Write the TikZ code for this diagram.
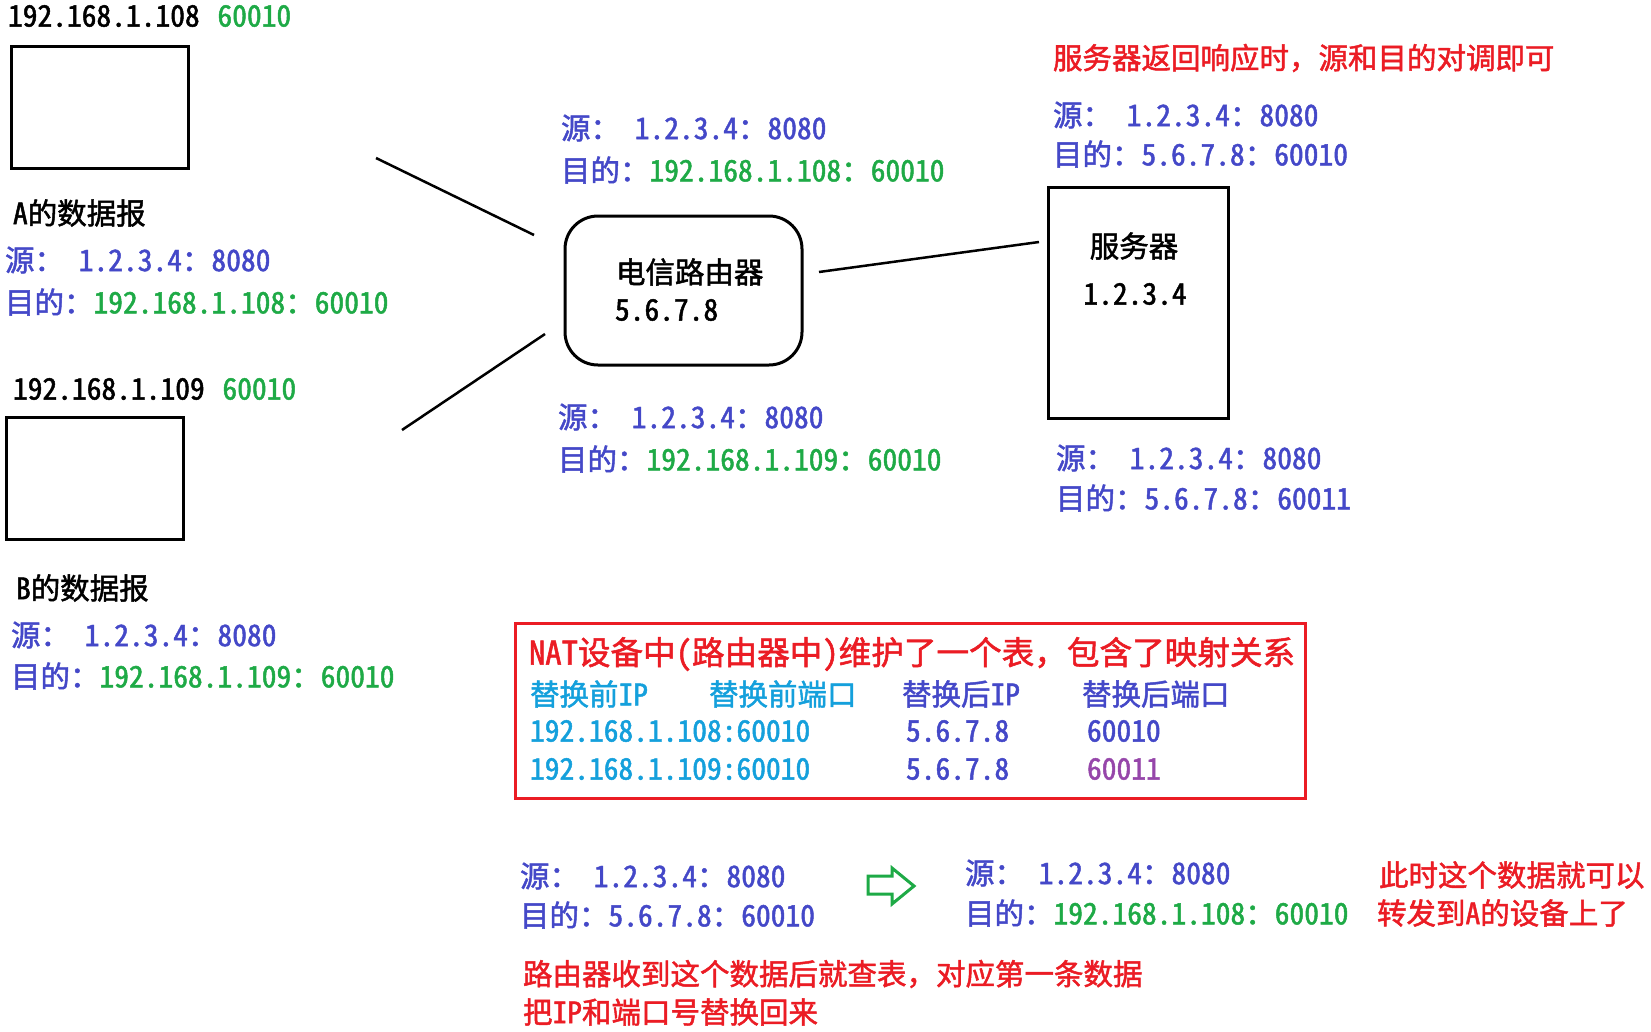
\documentclass[tikz,border=0pt]{standalone}
\usepackage{fontspec}
\setmainfont{Noto Sans CJK SC}[RawFeature=+hwid, FakeBold=1.6]
\newfontfamily\cjkfw{Noto Sans CJK SC}[FakeBold=1.6]
\newcommand{\fwc}{{\cjkfw ，}}
\definecolor{cblue}{RGB}{68,72,200}
\definecolor{cgreen}{RGB}{30,170,70}
\definecolor{cred}{RGB}{235,28,36}
\definecolor{ccyan}{RGB}{20,160,220}
\definecolor{cpurple}{RGB}{150,70,170}
\tikzset{
  txt/.style={inner sep=0pt, outer sep=0pt, anchor=west, font=\fontsize{29.5}{32}\selectfont},
  ctxt/.style={txt, anchor=center},
  boxnode/.style={draw, line width=3pt, inner sep=0pt, outer sep=0pt},
  link/.style={line width=2.5pt},
  bl/.style={txt, text=cblue},
  rd/.style={txt, text=cred},
}
\begin{document}
\begin{tikzpicture}[x=1pt,y=-1pt]
\useasboundingbox[fill=white] (0,0) rectangle (1651,1031);

% left host A
\node[txt] (ipA) at (8,16) {192.168.1.108\hspace{0.6em}\textcolor{cgreen}{60010}};
\node[boxnode, minimum width=177pt, minimum height=122pt] (boxA) at (99.5,107) {};
\node[txt] (lblA) at (13,213) {A的数据报};
\node[bl] (srcA) at (5,260) {源： 1.2.3.4：8080};
\node[bl] (dstA) at (5,302) {目的：\textcolor{cgreen}{192.168.1.108：60010}};

% left host B
\node[txt] (ipB) at (13,389) {192.168.1.109\hspace{0.6em}\textcolor{cgreen}{60010}};
\node[boxnode, minimum width=177pt, minimum height=122pt] (boxB) at (94.5,478) {};
\node[txt] (lblB) at (16,588) {B的数据报};
\node[bl] (srcB) at (11,635) {源： 1.2.3.4：8080};
\node[bl] (dstB) at (11,676) {目的：\textcolor{cgreen}{192.168.1.109：60010}};

% router
\node[boxnode, rounded corners=33pt, minimum width=237pt, minimum height=149pt] (router) at (683.5,290.5) {};
\node[txt] (routerName) at (616,272) {电信路由器};
\node[txt] (routerIP) at (615,310) {5.6.7.8};
\node[bl] (srcR1) at (561,128) {源： 1.2.3.4：8080};
\node[bl] (dstR1) at (561,170) {目的：\textcolor{cgreen}{192.168.1.108：60010}};
\node[bl] (srcR2) at (558,417) {源： 1.2.3.4：8080};
\node[bl] (dstR2) at (558,459) {目的：\textcolor{cgreen}{192.168.1.109：60010}};

% server
\node[boxnode, minimum width=180pt, minimum height=231pt] (server) at (1138,302.5) {};
\node[ctxt] (serverName) at (1134,246) {服务器};
\node[ctxt] (serverIP) at (1135,294) {1.2.3.4};
\node[rd] (note1) at (1053,58) {服务器返回响应时\fwc 源和目的对调即可};
\node[bl] (srcS1) at (1053,115) {源： 1.2.3.4：8080};
\node[bl] (dstS1) at (1053,154) {目的：5.6.7.8：60010};
\node[bl] (srcS2) at (1056,458) {源： 1.2.3.4：8080};
\node[bl] (dstS2) at (1056,498) {目的：5.6.7.8：60011};

% links (free-floating ends)
\coordinate (l1a) at (376,158); \coordinate (l1b) at (534,235);
\coordinate (l2a) at (402,430); \coordinate (l2b) at (545,334);
\coordinate (l3a) at (819,272); \coordinate (l3b) at (1039,242);
\draw[link] (l1a) -- (l1b);
\draw[link] (l2a) -- (l2b);
\draw[link] (l3a) -- (l3b);

% NAT table
\node[draw=cred, line width=3pt, inner sep=0pt, minimum width=790pt, minimum height=175pt] (nat) at (910,710.5) {};
\node[rd, font=\fontsize{32.6}{35}\selectfont] (natTitle) at (529,654) {NAT设备中(路由器中)维护了一个表\fwc 包含了映射关系};
\node[txt, text=ccyan] (h1) at (530,694) {替换前IP};
\node[txt, text=ccyan] (h2) at (709,694) {替换前端口};
\node[bl] (h3) at (902,694) {替换后IP};
\node[bl] (h4) at (1082,694) {替换后端口};
\node[txt, text=ccyan] (r1c1) at (530,731) {192.168.1.108:60010};
\node[bl] (r1c2) at (906,731) {5.6.7.8};
\node[bl] (r1c3) at (1087,731) {60010};
\node[txt, text=ccyan] (r2c1) at (530,769) {192.168.1.109:60010};
\node[bl] (r2c2) at (906,769) {5.6.7.8};
\node[txt, text=cpurple] (r2c3) at (1087,769) {60011};

% bottom
\node[bl] (srcL) at (520,876) {源： 1.2.3.4：8080};
\node[bl] (dstL) at (520,915) {目的：5.6.7.8：60010};
\draw[cgreen, line width=3pt, line join=miter] (868,876) -- (892,876) -- (892,868) -- (914,886) -- (892,904) -- (892,894) -- (868,894) -- cycle;
\node[bl] (srcRt) at (965,873) {源： 1.2.3.4：8080};
\node[bl] (dstRt) at (965,913) {目的：\textcolor{cgreen}{192.168.1.108：60010}};
\node[rd] (note2a) at (1379,875) {此时这个数据就可以};
\node[rd] (note2b) at (1377,913) {转发到A的设备上了};
\node[rd] (note3a) at (523,974) {路由器收到这个数据后就查表\fwc 对应第一条数据};
\node[rd] (note3b) at (523,1012) {把IP和端口号替换回来};
\end{tikzpicture}
\end{document}
